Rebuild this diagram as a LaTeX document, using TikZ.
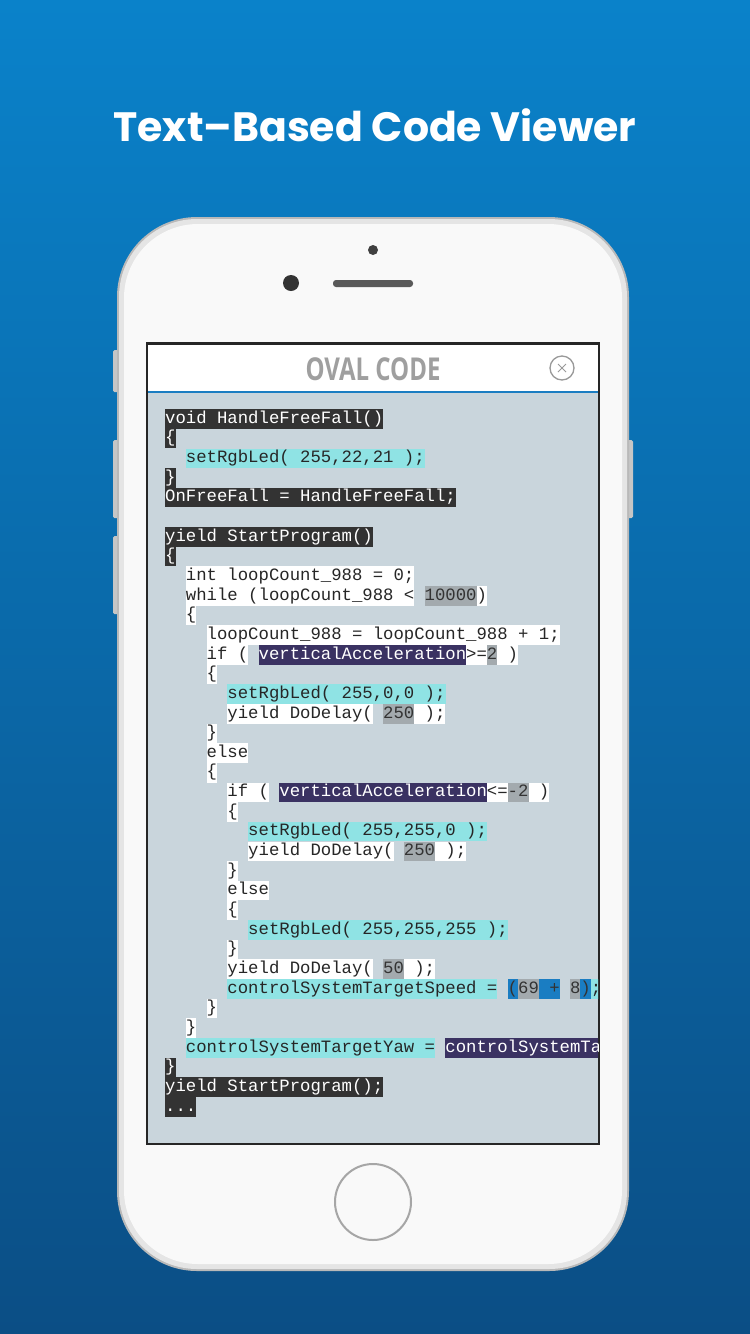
\documentclass[tikz,border=0pt]{standalone}
\usepackage{fontspec}
\setmainfont{Poppins}
\setmonofont{Liberation Mono}
\newfontfamily\ttl{Open Sans}
\begin{document}
\definecolor{bgtop}{HTML}{0A82CA}
\definecolor{bgbot}{HTML}{0B4E85}
\definecolor{scr}{HTML}{C9D5DC}
\definecolor{dk}{HTML}{333333}
\definecolor{cy}{HTML}{8FE3E4}
\definecolor{pu}{HTML}{3A3262}
\definecolor{gy}{HTML}{A3AAAE}
\definecolor{bl}{HTML}{1A7DC2}
\tikzset{
 seg/.style={anchor=west,inner sep=0pt,minimum height=19.6pt,text height=12.5pt,text depth=4pt,font=\ttfamily\fontsize{17.3}{19}\selectfont},
 D/.style={seg,fill=dk,text=white},
 W/.style={seg,fill=white,text=black!85},
 C/.style={seg,fill=cy,text=black!85},
 P/.style={seg,fill=pu,text=white},
 G/.style={seg,fill=gy,text=black!80},
 B/.style={seg,fill=bl,text=black!80},
 btn/.style={fill=gray!45,rounded corners=1.5pt}
}
\newcommand\cl[4]{\node[#3] at ({165+#2*10.38},{419+#1*19.65}) {#4};}
\newcommand\cs[5]{\node[#4] at ({165+(#2+#3)*10.38},{419+#1*19.65}) {#5};}
\begin{tikzpicture}[x=1pt,y=-1pt]
\useasboundingbox (0,0) rectangle (750,1334);
\shade[top color=bgtop,bottom color=bgbot] (0,0) rectangle (750,1334);
\node[text=white,font=\fontsize{41}{48}\selectfont\bfseries] (title) at (375,125) {Text–Based Code Viewer};
% buttons
\fill[btn] (113,350) rectangle (120,392);
\fill[btn] (113,440) rectangle (120,518);
\fill[btn] (113,536) rectangle (120,614);
\fill[btn] (626,440) rectangle (633,518);
% phone body
\fill[gray!55,rounded corners=80pt] (117,217) rectangle (629,1271);
\fill[gray!20,rounded corners=78pt] (119,219) rectangle (627,1269);
\fill[white!95!gray,rounded corners=74pt] (124,224) rectangle (622,1264);
\fill[black!75] (373,250) circle (5);
\fill[black!80] (291,283) circle (8);
\fill[black!65,rounded corners=3pt] (333,280) rectangle (413,287);
\draw[gray!70,line width=2pt] (373,1202) circle (38);
% screen
\fill[black!85] (146,342) rectangle (600,1145);
\fill[white] (148,345) rectangle (598,391);
\fill[scr] (148,393) rectangle (598,1143);
\draw[bl,line width=1.5pt] (148,392) -- (598,392);
\node[text=gray!75,font=\ttl\bfseries\fontsize{30}{30}\selectfont,xscale=0.8,yscale=1.05,inner sep=0pt] (head) at (373,369) {OVAL CODE};
\draw[gray!80,line width=1.3pt] (562,368) circle (12);
\draw[gray!80,line width=1pt] (558,364) -- (566,372) (558,372) -- (566,364);
\begin{scope}
\clip (148,393) rectangle (598,1143);
\cl{0}{0}{D}{void HandleFreeFall()}
\cl{1}{0}{D}{\{}
\cl{2}{2}{C}{setRgbLed( 255,22,21 );}
\cl{3}{0}{D}{\}}
\cl{4}{0}{D}{OnFreeFall = HandleFreeFall;}
\cl{6}{0}{D}{yield StartProgram()}
\cl{7}{0}{D}{\{}
\cl{8}{2}{W}{int loopCount\_988 = 0;}
\cl{9}{2}{W}{while (loopCount\_988 <~}\cs{9}{2}{23}{G}{10000}\cs{9}{2}{28}{W}{)}
\cl{10}{2}{W}{\{}
\cl{11}{4}{W}{loopCount\_988 = loopCount\_988 + 1;}
\cl{12}{4}{W}{if (~}\cs{12}{4}{5}{P}{verticalAcceleration}\cs{12}{4}{25}{W}{>=}\cs{12}{4}{27}{G}{2}\cs{12}{4}{28}{W}{~)}
\cl{13}{4}{W}{\{}
\cl{14}{6}{C}{setRgbLed( 255,0,0 );}
\cl{15}{6}{W}{yield DoDelay(~}\cs{15}{6}{15}{G}{250}\cs{15}{6}{18}{W}{~);}
\cl{16}{4}{W}{\}}
\cl{17}{4}{W}{else}
\cl{18}{4}{W}{\{}
\cl{19}{6}{W}{if (~}\cs{19}{6}{5}{P}{verticalAcceleration}\cs{19}{6}{25}{W}{<=}\cs{19}{6}{27}{G}{-2}\cs{19}{6}{29}{W}{~)}
\cl{20}{6}{W}{\{}
\cl{21}{8}{C}{setRgbLed( 255,255,0 );}
\cl{22}{8}{W}{yield DoDelay(~}\cs{22}{8}{15}{G}{250}\cs{22}{8}{18}{W}{~);}
\cl{23}{6}{W}{\}}
\cl{24}{6}{W}{else}
\cl{25}{6}{W}{\{}
\cl{26}{8}{C}{setRgbLed( 255,255,255 );}
\cl{27}{6}{W}{\}}
\cl{28}{6}{W}{yield DoDelay(~}\cs{28}{6}{15}{G}{50}\cs{28}{6}{17}{W}{~);}
\cl{29}{6}{C}{controlSystemTargetSpeed =~}\cs{29}{6}{27}{B}{(}\cs{29}{6}{28}{G}{69}\cs{29}{6}{30}{B}{~+~}\cs{29}{6}{33}{G}{8}\cs{29}{6}{34}{B}{)}\cs{29}{6}{35}{C}{;}
\cl{30}{4}{W}{\}}
\cl{31}{2}{W}{\}}
\cl{32}{2}{C}{controlSystemTargetYaw =~}\cs{32}{2}{25}{P}{controlSystemTargetYaw}
\cl{33}{0}{D}{\}}
\cl{34}{0}{D}{yield StartProgram();}
\cl{35}{0}{D}{...}
\end{scope}
\end{tikzpicture}
\end{document}
